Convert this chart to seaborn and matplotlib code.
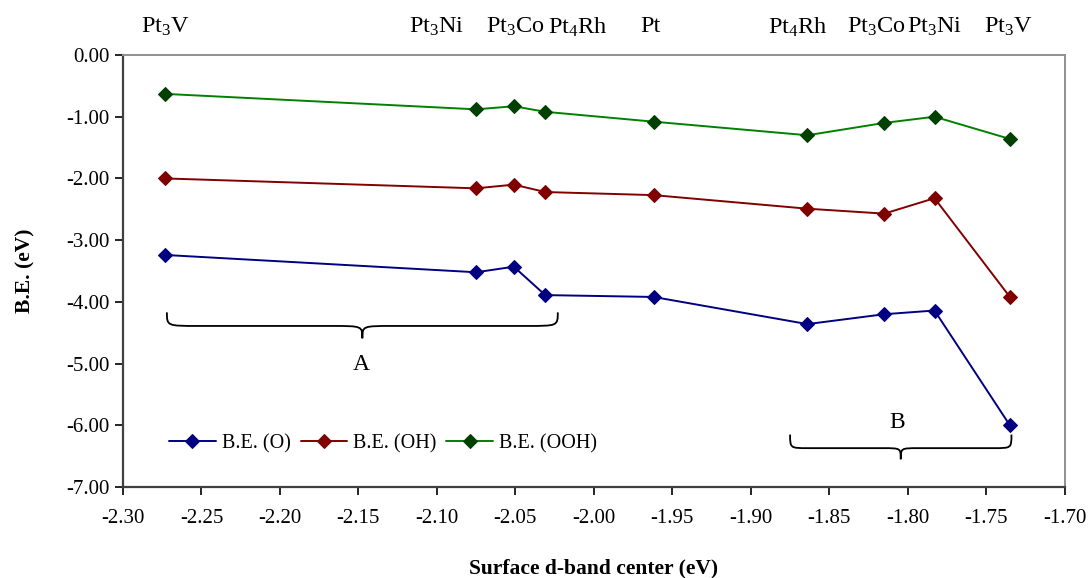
import numpy as np
import pandas as pd
import matplotlib
matplotlib.use("Agg")
import matplotlib.pyplot as plt
from matplotlib.path import Path
from matplotlib.patches import PathPatch
from matplotlib.ticker import FuncFormatter, MultipleLocator
import matplotlib.transforms as mtransforms
import seaborn as sns

# ---- data ----
dband = [-2.273, -2.075, -2.051, -2.031, -1.962, -1.864, -1.815, -1.783, -1.735]
be_O = [-3.24, -3.52, -3.43, -3.89, -3.92, -4.36, -4.20, -4.14, -6.00]
be_OH = [-2.00, -2.16, -2.10, -2.22, -2.27, -2.49, -2.57, -2.32, -3.92]
be_OOH = [-0.63, -0.88, -0.83, -0.92, -1.08, -1.30, -1.10, -1.00, -1.36]
series_names = ["B.E. (O)", "B.E. (OH)", "B.E. (OOH)"]
top_labels = [r"Pt$_3$V", r"Pt$_3$Ni", r"Pt$_3$Co", r"Pt$_4$Rh", "Pt",
              r"Pt$_4$Rh", r"Pt$_3$Co", r"Pt$_3$Ni", r"Pt$_3$V"]
top_label_x = [-2.273, -2.100, -2.050, -2.010, -1.964, -1.870, -1.820, -1.783, -1.736]

line_colors = ["#000080", "#800000", "#008000"]
marker_colors = ["#000080", "#800000", "#004000"]

sns.set_theme(style="white")
plt.rcParams["font.family"] = ["Liberation Serif", "DejaVu Serif"]
plt.rcParams["mathtext.fontset"] = "custom"
plt.rcParams["mathtext.rm"] = "Liberation Serif"
plt.rcParams["mathtext.it"] = "Liberation Serif:italic"
plt.rcParams["mathtext.bf"] = "Liberation Serif:bold"
plt.rcParams["text.color"] = "black"
plt.rcParams["axes.labelcolor"] = "black"
plt.rcParams["xtick.color"] = "black"
plt.rcParams["ytick.color"] = "black"

df = pd.DataFrame({
    "x": dband * 3,
    "y": be_O + be_OH + be_OOH,
    "series": [s for s in series_names for _ in dband],
})

fig = plt.figure(figsize=(10.91, 5.78), dpi=100)
ax = fig.add_axes([0.1127, 0.1574, 0.8633, 0.7474])

for name, lc, mc in zip(series_names, line_colors, marker_colors):
    sub = df[df["series"] == name]
    sns.lineplot(data=sub, x="x", y="y", ax=ax, color=lc, marker="D",
                 markersize=7.5, markerfacecolor=mc, markeredgecolor=mc,
                 linewidth=1.4, label=name, sort=False)

ax.set_xlim(-2.30, -1.70)
ax.set_ylim(-7.0, 0.0)
ax.xaxis.set_major_locator(MultipleLocator(0.05))
ax.yaxis.set_major_locator(MultipleLocator(1.0))
ax.xaxis.set_major_formatter(FuncFormatter(lambda v, p: f"{v:.2f}"))
ax.yaxis.set_major_formatter(FuncFormatter(lambda v, p: f"{v:.2f}"))
ax.tick_params(axis="both", direction="out", length=6, width=1.2, colors="black",
               labelsize=15, bottom=True, left=True, top=False, right=False)
ax.tick_params(axis="x", pad=10)

for s in ["left", "bottom"]:
    ax.spines[s].set_color("#404040")
    ax.spines[s].set_linewidth(1.6)
for s in ["top", "right"]:
    ax.spines[s].set_color("#909090")
    ax.spines[s].set_linewidth(1.4)

ax.set_xlabel("Surface d-band center (eV)", fontsize=15.5, fontweight="bold", labelpad=22)
ax.set_ylabel("B.E. (eV)", fontsize=15.5, fontweight="bold", labelpad=22)

ax.legend(loc="center left", bbox_to_anchor=(0.03, 0.10), ncol=3, frameon=False,
          fontsize=14.5, handlelength=2.3, columnspacing=0.5, handletextpad=0.3)

trans = mtransforms.blended_transform_factory(ax.transData, ax.transAxes)
for lab, xv in zip(top_labels, top_label_x):
    ax.text(xv, 1.065, lab, transform=trans, ha="center", va="center", fontsize=17.5)


def brace(ax, x0, x1, ytop, depth, tipdepth):
    xm = (x0 + x1) / 2
    yl = ytop - depth
    yt = ytop - tipdepth
    w = (x1 - x0)
    r = w * 0.08
    verts = [
        (x0, ytop), (x0, yl), (x0, yl), (x0 + r, yl),
        (xm - r, yl), (xm, yl), (xm, yl), (xm, yt),
        (xm, yl), (xm, yl), (xm + r, yl),
        (x1 - r, yl), (x1, yl), (x1, yl), (x1, ytop),
    ]
    codes = [Path.MOVETO, Path.CURVE4, Path.CURVE4, Path.CURVE4,
             Path.LINETO, Path.CURVE4, Path.CURVE4, Path.CURVE4,
             Path.CURVE4, Path.CURVE4, Path.CURVE4,
             Path.LINETO, Path.CURVE4, Path.CURVE4, Path.CURVE4]
    ax.add_patch(PathPatch(Path(verts, codes), fill=False, edgecolor="black", linewidth=1.3))


brace(ax, -2.272, -2.023, -4.17, 0.22, 0.42)
ax.text(-2.148, -5.02, "A", ha="center", va="center", fontsize=17)
brace(ax, -1.875, -1.734, -6.15, 0.22, 0.40)
ax.text(-1.807, -5.95, "B", ha="center", va="center", fontsize=17)

fig.savefig("out.png", dpi=100)
